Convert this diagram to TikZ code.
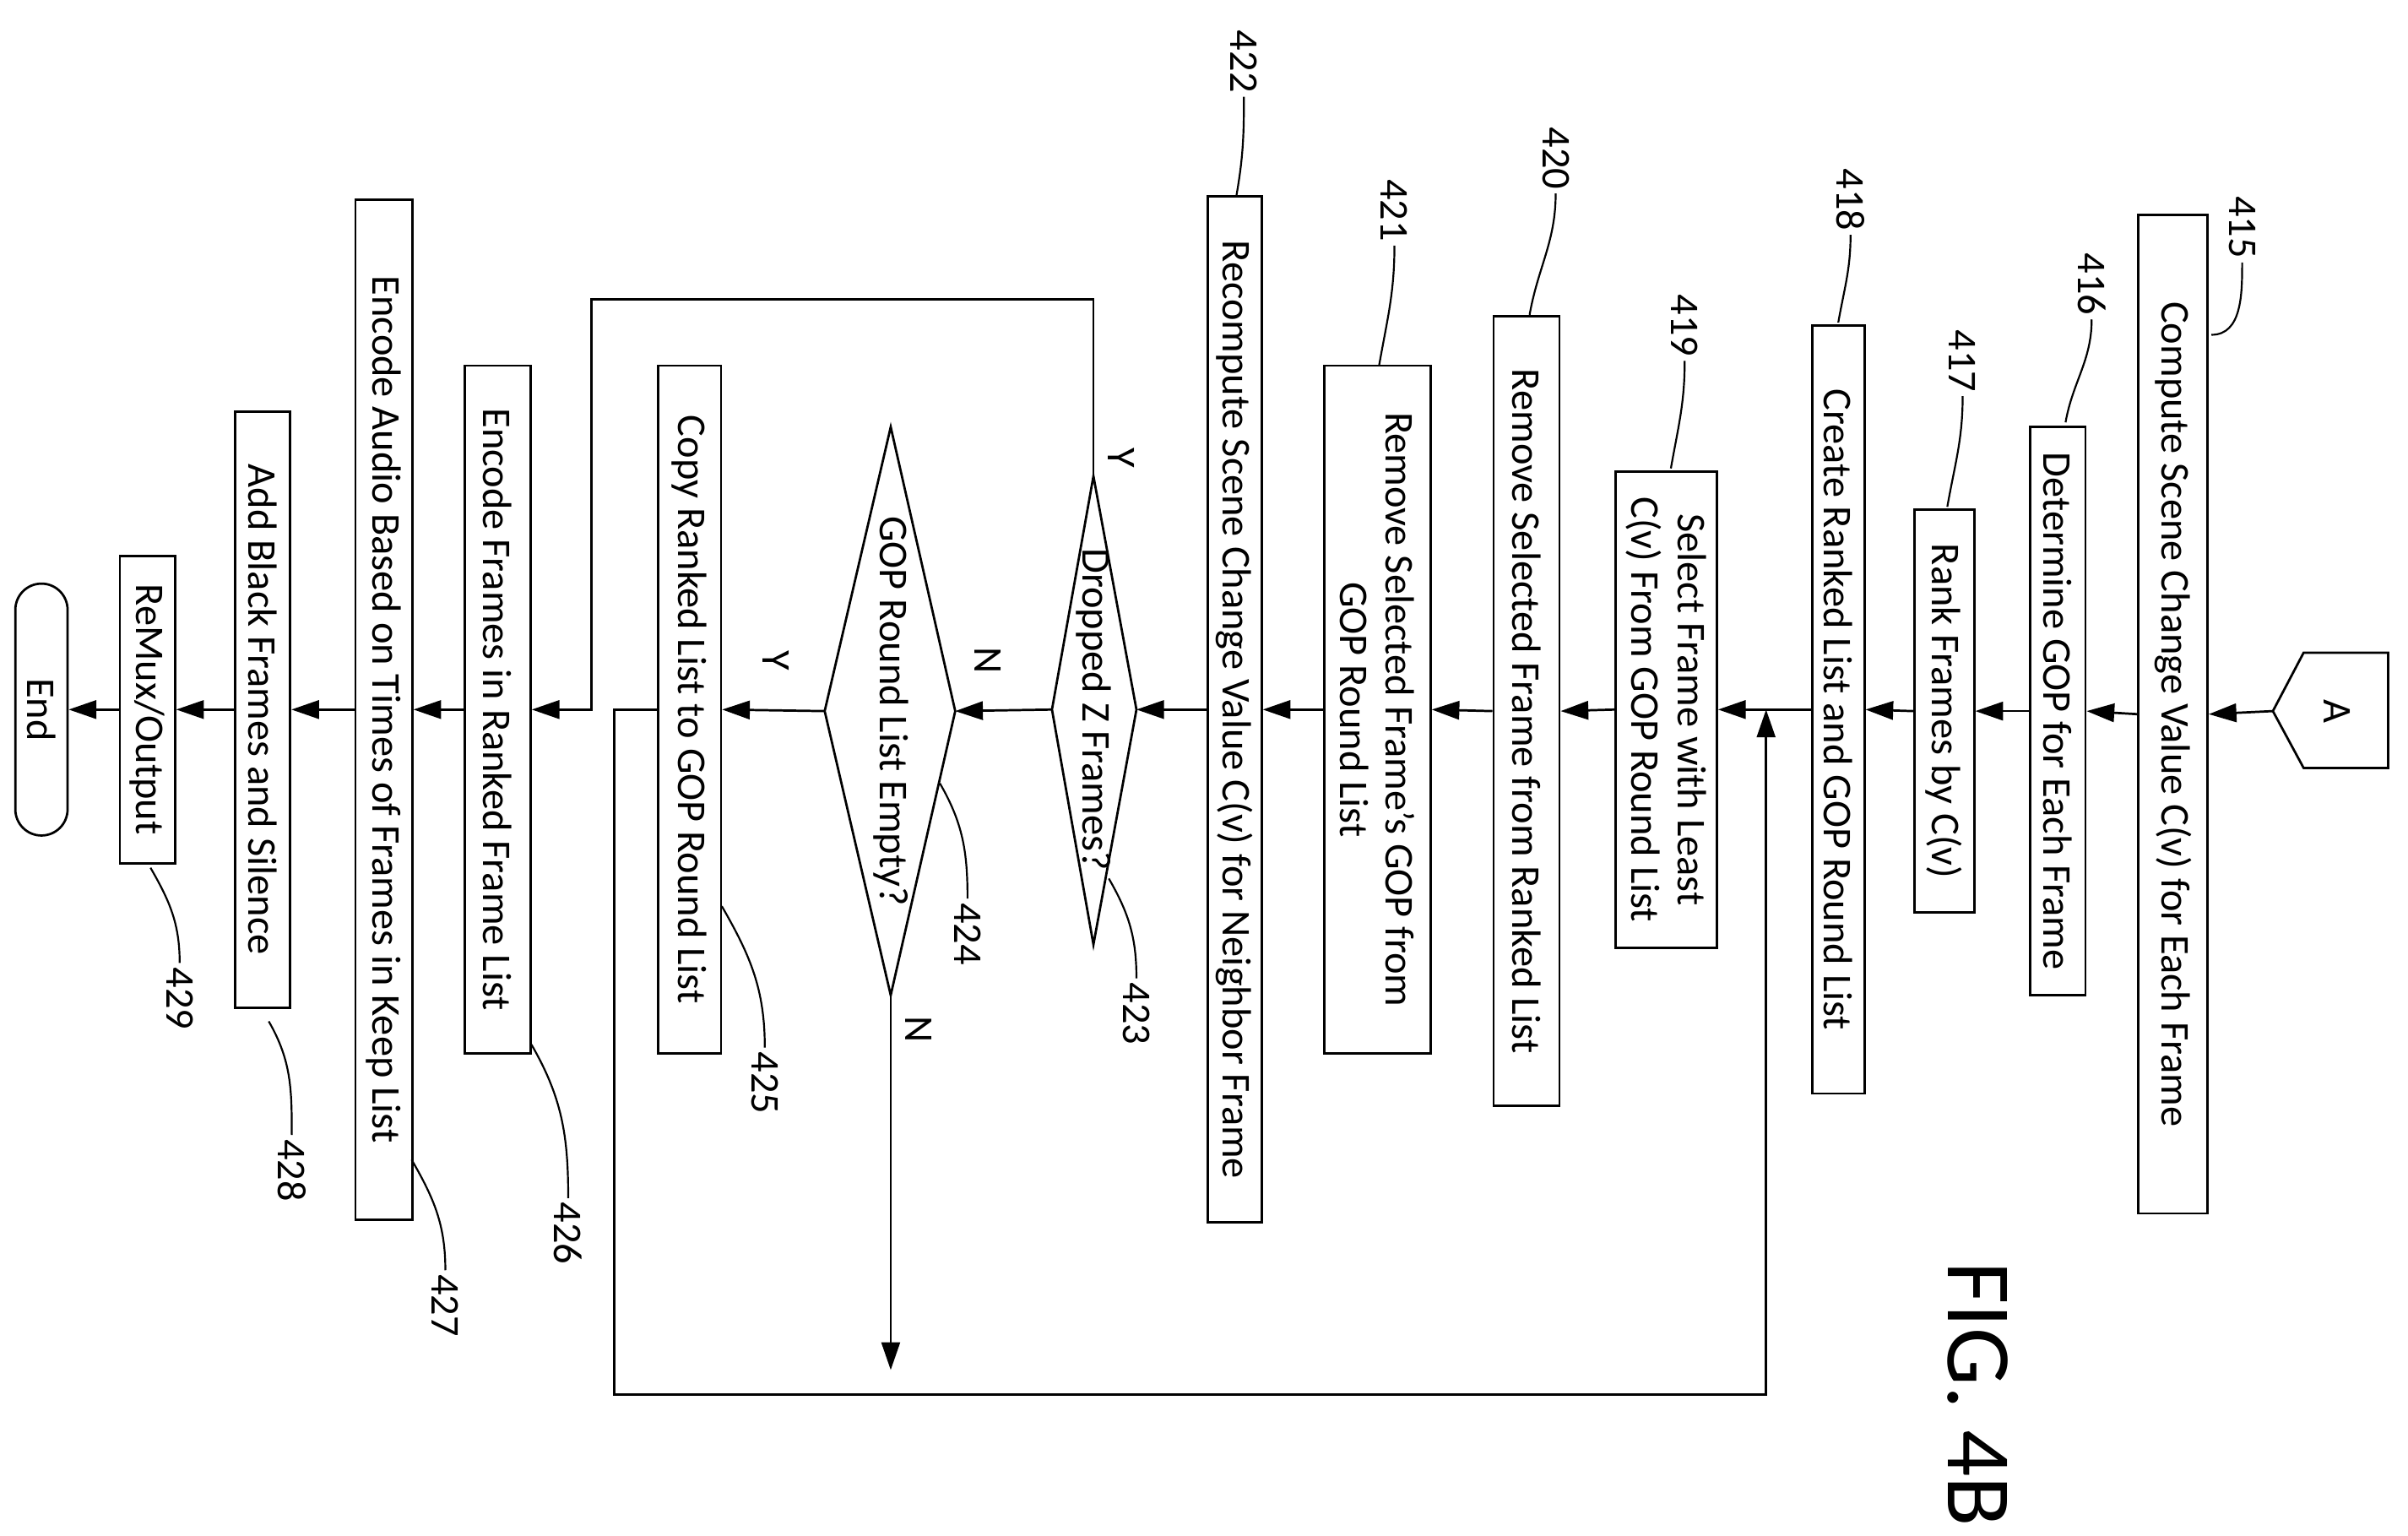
\documentclass[tikz,border=0pt]{standalone}
\usepackage{fontspec}
\setmainfont{Carlito}
\usetikzlibrary{arrows.meta}
\tikzset{every picture/.style={line width=0.75pt}}
\tikzset{
  stepbox/.style={draw, rotate=-90, inner sep=1pt, align=center, minimum height=#1},
  decidetext/.style={rotate=-90, inner sep=0pt},
  reflabel/.style={rotate=-90, inner sep=1pt},
  flow/.style={-{Triangle[length=9pt,width=6pt]}},
  leader/.style={line width=0.6pt}
}
\begin{document}
\begin{tikzpicture}[x=0.5pt,y=0.5pt,font=\fontsize{13.3}{15}\selectfont]
\useasboundingbox (0,0) rectangle (1568,1000);

% off-page connector
\node[rotate=-90] (A) at (1522,537) {A};
\draw (1480,537) -- (1500,575) -- (1555,575) -- (1555,500) -- (1500,500) -- cycle;
\coordinate (Atip) at (1480,537);

% process boxes
\node[stepbox=22.5pt, minimum width=325pt] (b415) at (1415,535) {Compute Scene Change Value C(v) for Each Frame};
\node[stepbox=18pt, minimum width=185pt] (b416) at (1340,537) {Determine GOP for Each Frame};
\node[stepbox=19.5pt, minimum width=131pt] (b417) at (1266,537) {Rank Frames by C(v)};
\node[stepbox=17pt, minimum width=250pt] (b418) at (1197,538) {Create Ranked List and GOP Round List};
\node[stepbox=33pt, minimum width=155pt] (b419) at (1085,538) {Select Frame with Least\\C(v) From GOP Round List};
\node[stepbox=21.5pt, minimum width=257pt] (b420) at (994,537) {Remove Selected Frame from Ranked List};
\node[stepbox=34.5pt, minimum width=224pt] (b421) at (897,538) {Remove Selected Frame’s GOP from\\GOP Round List};
\node[stepbox=17.5pt, minimum width=334pt] (b422) at (804,538) {Recompute Scene Change Value C(v) for Neighbor Frame};

% decisions
\node[decidetext] (b423) at (712,538) {Dropped Z Frames?};
\coordinate (d423r) at (740,538); \coordinate (d423l) at (685,538);
\coordinate (d423t) at (712,690); \coordinate (d423b) at (712,385);
\draw (d423r) -- (d423t) -- (d423l) -- (d423b) -- cycle;
\node[decidetext] (b424) at (580,537) {GOP Round List Empty?};
\coordinate (d424r) at (622,537); \coordinate (d424l) at (537,537);
\coordinate (d424t) at (580,722); \coordinate (d424b) at (580,352);
\draw (d424r) -- (d424t) -- (d424l) -- (d424b) -- cycle;

\node[stepbox=20.5pt, minimum width=224pt] (b425) at (449,538) {Copy Ranked List to GOP Round List};
\node[stepbox=21.5pt, minimum width=224pt] (b426) at (324,538) {Encode Frames in Ranked Frame List};
\node[stepbox=18.5pt, minimum width=332pt] (b427) at (250,538) {Encode Audio Based on Times of Frames in Keep List};
\node[stepbox=18pt, minimum width=194pt] (b428) at (171,538) {Add Black Frames and Silence};
\node[stepbox=18pt, minimum width=100pt] (b429) at (96,538) {ReMux/Output};
\node[stepbox=17pt, minimum width=82pt, rounded corners=8.5pt] (end) at (27,538) {End};

% main flow
\draw[flow] (Atip) -- (b415.north);
\draw[flow] (b415.south) -- (b416.north);
\draw[flow] (b416.south) -- (b417.north);
\draw[flow] (b417.south) -- (b418.north);
\draw[flow] (b418.south) -- (b419.north);
\draw[flow] (b419.south) -- (b420.north);
\draw[flow] (b420.south) -- (b421.north);
\draw[flow] (b421.south) -- (b422.north);
\draw[flow] (b422.south) -- (d423r);
\draw[flow] (d423l) -- (d424r);
\draw[flow] (d424l) -- (b425.north);
\draw[flow] (d423t) |- (385,805) |- (b426.north);
\draw[flow] (d424b) -- (580,108);
\coordinate (loopin) at (1150,538);
\draw[flow] (b425.south) -| (400,92) -| (loopin);
\draw[flow] (b426.south) -- (b427.north);
\draw[flow] (b427.south) -- (b428.north);
\draw[flow] (b428.south) -- (b429.north);
\draw[flow] (b429.south) -- (end.north);

% branch labels
\node[reflabel] (y423) at (730,702) {Y};
\node[reflabel] (n423) at (643,570) {N};
\node[reflabel] (y424) at (505,570) {Y};
\node[reflabel] (n424) at (598,330) {N};

% reference numerals
\node[reflabel] (l415) at (1460,852) {415};
\node[reflabel] (l416) at (1362,815) {416};
\node[reflabel] (l417) at (1278,765) {417};
\node[reflabel] (l418) at (1205,870) {418};
\node[reflabel] (l419) at (1097,788) {419};
\node[reflabel] (l420) at (1013,897) {420};
\node[reflabel] (l421) at (908,863) {421};
\node[reflabel] (l422) at (810,960) {422};
\node[reflabel] (l423) at (740,340) {423};
\node[reflabel] (l424) at (630,392) {424};
\node[reflabel] (l425) at (498,295) {425};
\node[reflabel] (l426) at (370,197) {426};
\node[reflabel] (l427) at (290,150) {427};
\node[reflabel] (l428) at (190,238) {428};
\node[reflabel] (l429) at (117,350) {429};

\draw[leader] (l415.east) to[out=-90,in=0] (1440,782);
\draw[leader] (l416.east) to[out=-90,in=80] (1345,725);
\draw[leader] (l417.east) to[out=-90,in=80] (1268,670);
\draw[leader] (l418.east) to[out=-90,in=80] (1197,790);
\draw[leader] (l419.east) to[out=-90,in=80] (1088,695);
\draw[leader] (l420.east) to[out=-90,in=80] (996,795);
\draw[leader] (l421.east) to[out=-90,in=80] (898,762);
\draw[leader] (l422.east) to[out=-90,in=80] (805,872);
\draw[leader] (l423.west) to[out=90,in=-60] (722,428);
\draw[leader] (l424.west) to[out=90,in=-60] (612,490);
\draw[leader] (l425.west) to[out=90,in=-60] (470,410);
\draw[leader] (l426.west) to[out=90,in=-60] (346,320);
\draw[leader] (l427.west) to[out=90,in=-60] (268,245);
\draw[leader] (l428.west) to[out=90,in=-60] (175,335);
\draw[leader] (l429.west) to[out=90,in=-60] (98,435);

% figure caption
\node[rotate=-90, font=\fontsize{30}{34}\selectfont] (fig) at (1288,92) {FIG. 4B};
\end{tikzpicture}
\end{document}
